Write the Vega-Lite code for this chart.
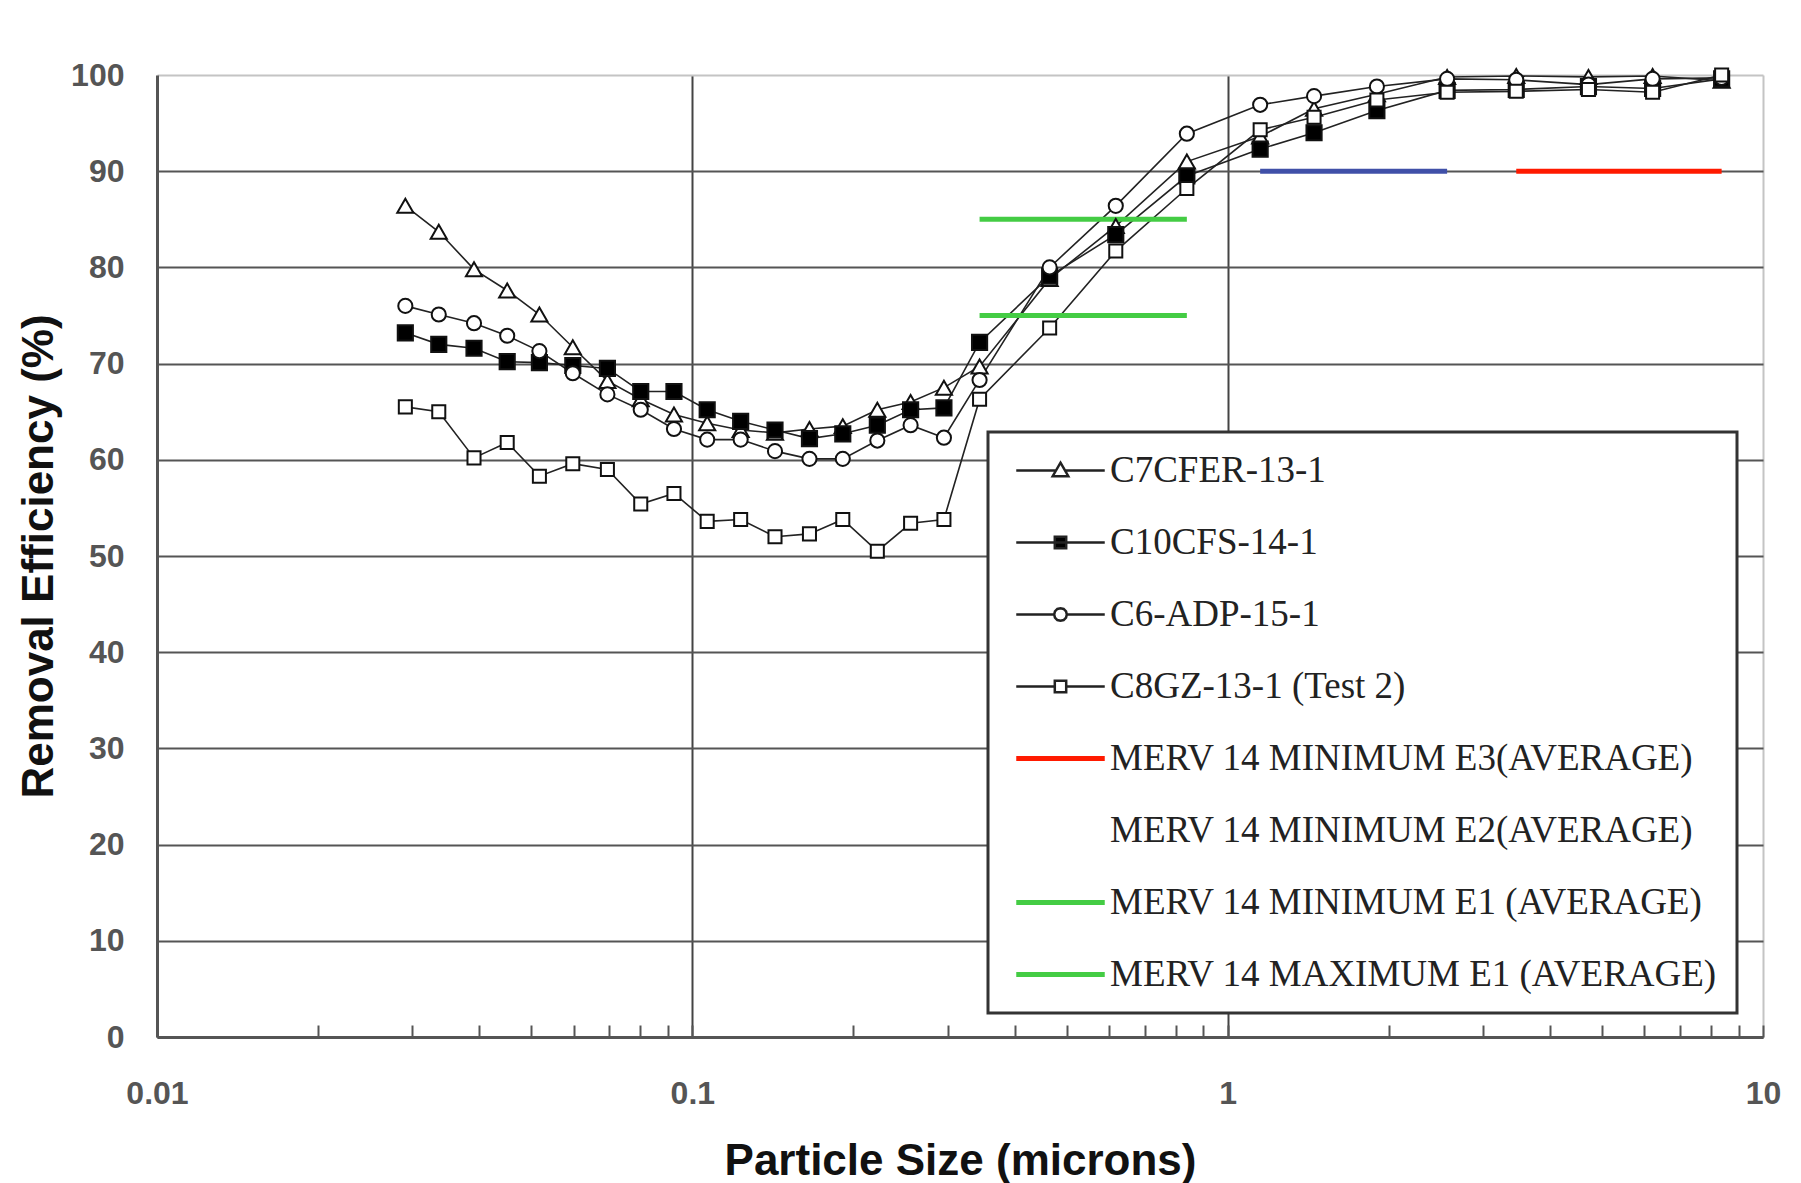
{
  "$schema": "https://vega.github.io/schema/vega-lite/v6.json",
  "width": 1606,
  "height": 962,
  "autosize": {"type": "none"},
  "padding": {"left": 157, "top": 75, "right": 38, "bottom": 146},
  "background": "white",
  "config": {"view": {"stroke": null}, "legend": {"strokeWidth": 3}},
  "datasets": {
    "meas": [
      {"series": "C7CFER-13-1", "size": 0.0291, "eff": 86.4},
      {"series": "C7CFER-13-1", "size": 0.0336, "eff": 83.7},
      {"series": "C7CFER-13-1", "size": 0.0391, "eff": 79.8},
      {"series": "C7CFER-13-1", "size": 0.0451, "eff": 77.6},
      {"series": "C7CFER-13-1", "size": 0.0518, "eff": 75.1},
      {"series": "C7CFER-13-1", "size": 0.0598, "eff": 71.7},
      {"series": "C7CFER-13-1", "size": 0.0694, "eff": 68.2},
      {"series": "C7CFER-13-1", "size": 0.0801, "eff": 66.3},
      {"series": "C7CFER-13-1", "size": 0.0924, "eff": 64.7},
      {"series": "C7CFER-13-1", "size": 0.1066, "eff": 63.8},
      {"series": "C7CFER-13-1", "size": 0.1231, "eff": 63.1},
      {"series": "C7CFER-13-1", "size": 0.1427, "eff": 62.8},
      {"series": "C7CFER-13-1", "size": 0.1655, "eff": 63.2},
      {"series": "C7CFER-13-1", "size": 0.191, "eff": 63.5},
      {"series": "C7CFER-13-1", "size": 0.2216, "eff": 65.2},
      {"series": "C7CFER-13-1", "size": 0.2557, "eff": 66.0},
      {"series": "C7CFER-13-1", "size": 0.2951, "eff": 67.5},
      {"series": "C7CFER-13-1", "size": 0.344, "eff": 69.7},
      {"series": "C7CFER-13-1", "size": 0.465, "eff": 78.8},
      {"series": "C7CFER-13-1", "size": 0.618, "eff": 84.3},
      {"series": "C7CFER-13-1", "size": 0.839, "eff": 91.0},
      {"series": "C7CFER-13-1", "size": 1.15, "eff": 93.6},
      {"series": "C7CFER-13-1", "size": 1.45, "eff": 96.5},
      {"series": "C7CFER-13-1", "size": 1.9, "eff": 98.0},
      {"series": "C7CFER-13-1", "size": 2.57, "eff": 99.8},
      {"series": "C7CFER-13-1", "size": 3.46, "eff": 99.9},
      {"series": "C7CFER-13-1", "size": 4.72, "eff": 99.8},
      {"series": "C7CFER-13-1", "size": 6.22, "eff": 99.9},
      {"series": "C7CFER-13-1", "size": 8.37, "eff": 99.4},
      {"series": "C10CFS-14-1", "size": 0.0291, "eff": 73.2},
      {"series": "C10CFS-14-1", "size": 0.0336, "eff": 72.0},
      {"series": "C10CFS-14-1", "size": 0.0391, "eff": 71.6},
      {"series": "C10CFS-14-1", "size": 0.0451, "eff": 70.2},
      {"series": "C10CFS-14-1", "size": 0.0518, "eff": 70.1},
      {"series": "C10CFS-14-1", "size": 0.0598, "eff": 69.8},
      {"series": "C10CFS-14-1", "size": 0.0694, "eff": 69.5},
      {"series": "C10CFS-14-1", "size": 0.0801, "eff": 67.1},
      {"series": "C10CFS-14-1", "size": 0.0924, "eff": 67.1},
      {"series": "C10CFS-14-1", "size": 0.1066, "eff": 65.2},
      {"series": "C10CFS-14-1", "size": 0.1231, "eff": 64.0},
      {"series": "C10CFS-14-1", "size": 0.1427, "eff": 63.1},
      {"series": "C10CFS-14-1", "size": 0.1655, "eff": 62.2},
      {"series": "C10CFS-14-1", "size": 0.191, "eff": 62.7},
      {"series": "C10CFS-14-1", "size": 0.2216, "eff": 63.6},
      {"series": "C10CFS-14-1", "size": 0.2557, "eff": 65.2},
      {"series": "C10CFS-14-1", "size": 0.2951, "eff": 65.4},
      {"series": "C10CFS-14-1", "size": 0.344, "eff": 72.2},
      {"series": "C10CFS-14-1", "size": 0.465, "eff": 79.1},
      {"series": "C10CFS-14-1", "size": 0.618, "eff": 83.4},
      {"series": "C10CFS-14-1", "size": 0.839, "eff": 89.5},
      {"series": "C10CFS-14-1", "size": 1.15, "eff": 92.3},
      {"series": "C10CFS-14-1", "size": 1.45, "eff": 94.0},
      {"series": "C10CFS-14-1", "size": 1.9, "eff": 96.3},
      {"series": "C10CFS-14-1", "size": 2.57, "eff": 98.4},
      {"series": "C10CFS-14-1", "size": 3.46, "eff": 98.5},
      {"series": "C10CFS-14-1", "size": 4.72, "eff": 98.8},
      {"series": "C10CFS-14-1", "size": 6.22, "eff": 98.6},
      {"series": "C10CFS-14-1", "size": 8.37, "eff": 99.6},
      {"series": "C6-ADP-15-1", "size": 0.0291, "eff": 76.0},
      {"series": "C6-ADP-15-1", "size": 0.0336, "eff": 75.1},
      {"series": "C6-ADP-15-1", "size": 0.0391, "eff": 74.2},
      {"series": "C6-ADP-15-1", "size": 0.0451, "eff": 72.9},
      {"series": "C6-ADP-15-1", "size": 0.0518, "eff": 71.3},
      {"series": "C6-ADP-15-1", "size": 0.0598, "eff": 69.0},
      {"series": "C6-ADP-15-1", "size": 0.0694, "eff": 66.8},
      {"series": "C6-ADP-15-1", "size": 0.0801, "eff": 65.2},
      {"series": "C6-ADP-15-1", "size": 0.0924, "eff": 63.2},
      {"series": "C6-ADP-15-1", "size": 0.1066, "eff": 62.1},
      {"series": "C6-ADP-15-1", "size": 0.1231, "eff": 62.1},
      {"series": "C6-ADP-15-1", "size": 0.1427, "eff": 60.9},
      {"series": "C6-ADP-15-1", "size": 0.1655, "eff": 60.1},
      {"series": "C6-ADP-15-1", "size": 0.191, "eff": 60.1},
      {"series": "C6-ADP-15-1", "size": 0.2216, "eff": 62.0},
      {"series": "C6-ADP-15-1", "size": 0.2557, "eff": 63.6},
      {"series": "C6-ADP-15-1", "size": 0.2951, "eff": 62.3},
      {"series": "C6-ADP-15-1", "size": 0.344, "eff": 68.3},
      {"series": "C6-ADP-15-1", "size": 0.465, "eff": 80.0},
      {"series": "C6-ADP-15-1", "size": 0.618, "eff": 86.4},
      {"series": "C6-ADP-15-1", "size": 0.839, "eff": 93.9},
      {"series": "C6-ADP-15-1", "size": 1.15, "eff": 96.9},
      {"series": "C6-ADP-15-1", "size": 1.45, "eff": 97.8},
      {"series": "C6-ADP-15-1", "size": 1.9, "eff": 98.8},
      {"series": "C6-ADP-15-1", "size": 2.57, "eff": 99.6},
      {"series": "C6-ADP-15-1", "size": 3.46, "eff": 99.5},
      {"series": "C6-ADP-15-1", "size": 4.72, "eff": 99.0},
      {"series": "C6-ADP-15-1", "size": 6.22, "eff": 99.6},
      {"series": "C6-ADP-15-1", "size": 8.37, "eff": 99.7},
      {"series": "C8GZ-13-1 (Test 2)", "size": 0.0291, "eff": 65.5},
      {"series": "C8GZ-13-1 (Test 2)", "size": 0.0336, "eff": 65.0},
      {"series": "C8GZ-13-1 (Test 2)", "size": 0.0391, "eff": 60.2},
      {"series": "C8GZ-13-1 (Test 2)", "size": 0.0451, "eff": 61.8},
      {"series": "C8GZ-13-1 (Test 2)", "size": 0.0518, "eff": 58.3},
      {"series": "C8GZ-13-1 (Test 2)", "size": 0.0598, "eff": 59.6},
      {"series": "C8GZ-13-1 (Test 2)", "size": 0.0694, "eff": 59.0},
      {"series": "C8GZ-13-1 (Test 2)", "size": 0.0801, "eff": 55.4},
      {"series": "C8GZ-13-1 (Test 2)", "size": 0.0924, "eff": 56.5},
      {"series": "C8GZ-13-1 (Test 2)", "size": 0.1066, "eff": 53.6},
      {"series": "C8GZ-13-1 (Test 2)", "size": 0.1231, "eff": 53.8},
      {"series": "C8GZ-13-1 (Test 2)", "size": 0.1427, "eff": 52.0},
      {"series": "C8GZ-13-1 (Test 2)", "size": 0.1655, "eff": 52.3},
      {"series": "C8GZ-13-1 (Test 2)", "size": 0.191, "eff": 53.8},
      {"series": "C8GZ-13-1 (Test 2)", "size": 0.2216, "eff": 50.5},
      {"series": "C8GZ-13-1 (Test 2)", "size": 0.2557, "eff": 53.4},
      {"series": "C8GZ-13-1 (Test 2)", "size": 0.2951, "eff": 53.8},
      {"series": "C8GZ-13-1 (Test 2)", "size": 0.344, "eff": 66.3},
      {"series": "C8GZ-13-1 (Test 2)", "size": 0.465, "eff": 73.7},
      {"series": "C8GZ-13-1 (Test 2)", "size": 0.618, "eff": 81.7},
      {"series": "C8GZ-13-1 (Test 2)", "size": 0.839, "eff": 88.2},
      {"series": "C8GZ-13-1 (Test 2)", "size": 1.15, "eff": 94.3},
      {"series": "C8GZ-13-1 (Test 2)", "size": 1.45, "eff": 95.6},
      {"series": "C8GZ-13-1 (Test 2)", "size": 1.9, "eff": 97.4},
      {"series": "C8GZ-13-1 (Test 2)", "size": 2.57, "eff": 98.2},
      {"series": "C8GZ-13-1 (Test 2)", "size": 3.46, "eff": 98.3},
      {"series": "C8GZ-13-1 (Test 2)", "size": 4.72, "eff": 98.5},
      {"series": "C8GZ-13-1 (Test 2)", "size": 6.22, "eff": 98.2},
      {"series": "C8GZ-13-1 (Test 2)", "size": 8.37, "eff": 100.0}
    ],
    "ref": [
      {"series": "MERV 14 MINIMUM E3(AVERAGE)", "size": 3.46, "eff": 90},
      {"series": "MERV 14 MINIMUM E3(AVERAGE)", "size": 8.37, "eff": 90},
      {"series": "MERV 14 MINIMUM E2(AVERAGE)", "size": 1.15, "eff": 90},
      {"series": "MERV 14 MINIMUM E2(AVERAGE)", "size": 2.57, "eff": 90},
      {"series": "MERV 14 MINIMUM E1 (AVERAGE)", "size": 0.344, "eff": 75},
      {"series": "MERV 14 MINIMUM E1 (AVERAGE)", "size": 0.839, "eff": 75},
      {"series": "MERV 14 MAXIMUM E1 (AVERAGE)", "size": 0.344, "eff": 85},
      {"series": "MERV 14 MAXIMUM E1 (AVERAGE)", "size": 0.839, "eff": 85}
    ]
  },
  "encoding": {
    "x": {
      "field": "size", "type": "quantitative",
      "scale": {"type": "log", "domain": [0.01, 10], "nice": false},
      "axis": {
        "title": "Particle Size (microns)",
        "values": [0.01,0.02,0.03,0.04,0.05,0.06,0.07,0.08,0.09,0.1,0.2,0.3,0.4,0.5,0.6,0.7,0.8,0.9,1,2,3,4,5,6,7,8,9,10],
        "labelExpr": "datum.value == 0.01 ? '0.01' : datum.value == 0.1 ? '0.1' : datum.value == 1 ? '1' : datum.value == 10 ? '10' : ''",
        "grid": true,
        "gridOpacity": {"condition": {"test": "datum.value == 0.1 || datum.value == 1 || datum.value == 10", "value": 1}, "value": 0},
        "gridColor": {"condition": {"test": "datum.value == 10", "value": "#c4c4c4"}, "value": "#444"},
        "gridWidth": 2,
        "tickSize": -12, "tickColor": "#555", "tickWidth": 2,
        "domainColor": "#555", "domainWidth": 3,
        "labelFont": "Liberation Sans", "labelFontSize": 32, "labelFontWeight": "bold", "labelColor": "#555",
        "labelPadding": 53, "labelFlush": false, "labelOverlap": false,
        "titleFont": "Liberation Sans", "titleFontSize": 44, "titleFontWeight": "bold", "titleColor": "#111",
        "titlePadding": 30
      }
    },
    "y": {
      "field": "eff", "type": "quantitative",
      "scale": {"domain": [0, 100], "nice": false, "zero": true},
      "axis": {
        "title": "Removal Efficiency (%)",
        "values": [0,10,20,30,40,50,60,70,80,90,100],
        "grid": true,
        "gridColor": {"condition": {"test": "datum.value == 100", "value": "#c4c4c4"}, "value": "#555"},
        "gridWidth": 2,
        "ticks": false,
        "domainColor": "#555", "domainWidth": 3,
        "labelFont": "Liberation Sans", "labelFontSize": 32, "labelFontWeight": "bold", "labelColor": "#555",
        "labelPadding": 33, "labelFlush": false,
        "titleFont": "Liberation Sans", "titleFontSize": 44, "titleFontWeight": "bold", "titleColor": "#111",
        "titlePadding": 9
      }
    }
  },
  "layer": [
    {
      "data": {"name": "meas"},
      "mark": {"type": "line", "strokeWidth": 1.6},
      "encoding": {
        "color": {
          "field": "series", "type": "nominal",
          "scale": {
            "domain": ["C7CFER-13-1", "C10CFS-14-1", "C6-ADP-15-1", "C8GZ-13-1 (Test 2)", "MERV 14 MINIMUM E3(AVERAGE)", "MERV 14 MINIMUM E2(AVERAGE)", "MERV 14 MINIMUM E1 (AVERAGE)", "MERV 14 MAXIMUM E1 (AVERAGE)"],
            "range": ["#222", "#222", "#222", "#222", "#ff1a00", "#4050a8", "#44cc44", "#44cc44"]
          },
          "legend": {
            "title": null,
            "orient": "none", "legendX": 831, "legendY": 357,
            "padding": 20,
            "fillColor": "white", "strokeColor": "#333",
            "symbolSize": 900, "symbolStrokeWidth": 2.5,
            "symbolOffset": 34, "labelOffset": 31,
            "labelFont": "Liberation Serif", "labelFontSize": 37, "labelColor": "#222", "labelLimit": 900,
            "rowPadding": 34,
            "encode": {
              "symbols": {
                "update": {
                  "shape": {"signal": "datum.value == 'C7CFER-13-1' ? 'M-2.95,0H-0.35M0.35,0H2.95M0,-0.52L0.52,0.38L-0.52,0.38Z' : datum.value == 'C10CFS-14-1' ? 'M-2.95,0H2.95M-0.38,-0.38H0.38V0.38H-0.38Z' : datum.value == 'C6-ADP-15-1' ? 'M-2.95,0H-0.42M0.42,0H2.95M0.42,0L0.37,0.21L0.21,0.37L0,0.42L-0.21,0.37L-0.37,0.21L-0.42,0L-0.37,-0.21L-0.21,-0.37L0,-0.42L0.21,-0.37L0.37,-0.21Z' : datum.value == 'C8GZ-13-1 (Test 2)' ? 'M-2.95,0H-0.38M0.38,0H2.95M-0.38,-0.38H0.38V0.38H-0.38Z' : datum.value == 'MERV 14 MINIMUM E2(AVERAGE)' ? 'M0,0' : 'M-2.95,0H2.95'"},
                  "fill": {"signal": "datum.value == 'C10CFS-14-1' ? '#000' : (datum.value == 'C7CFER-13-1' || datum.value == 'C6-ADP-15-1' || datum.value == 'C8GZ-13-1 (Test 2)') ? '#fff' : 'transparent'"},
                  "strokeWidth": {"signal": "(datum.value == 'MERV 14 MINIMUM E3(AVERAGE)' || datum.value == 'MERV 14 MINIMUM E1 (AVERAGE)' || datum.value == 'MERV 14 MAXIMUM E1 (AVERAGE)') ? 5 : 2.5"}
                }
              }
            }
          }
        },
        "detail": {"field": "series"}
      }
    },
    {
      "data": {"name": "ref"},
      "mark": {"type": "line", "strokeWidth": 5},
      "encoding": {
        "color": {"field": "series", "type": "nominal"},
        "detail": {"field": "series"}
      }
    },
    {
      "data": {"name": "meas"},
      "mark": {"type": "point", "stroke": "#111", "strokeWidth": 2, "opacity": 1, "filled": false},
      "encoding": {
        "shape": {
          "field": "series", "type": "nominal",
          "scale": {"domain": ["C7CFER-13-1", "C10CFS-14-1", "C6-ADP-15-1", "C8GZ-13-1 (Test 2)"], "range": ["triangle-up", "square", "circle", "square"]},
          "legend": null
        },
        "fill": {
          "field": "series", "type": "nominal",
          "scale": {"domain": ["C7CFER-13-1", "C10CFS-14-1", "C6-ADP-15-1", "C8GZ-13-1 (Test 2)"], "range": ["#fff", "#000", "#fff", "#fff"]},
          "legend": null
        },
        "size": {
          "field": "series", "type": "nominal",
          "scale": {"domain": ["C7CFER-13-1", "C10CFS-14-1", "C6-ADP-15-1", "C8GZ-13-1 (Test 2)"], "range": [260, 170, 200, 150]},
          "legend": null
        }
      }
    }
  ]
}
